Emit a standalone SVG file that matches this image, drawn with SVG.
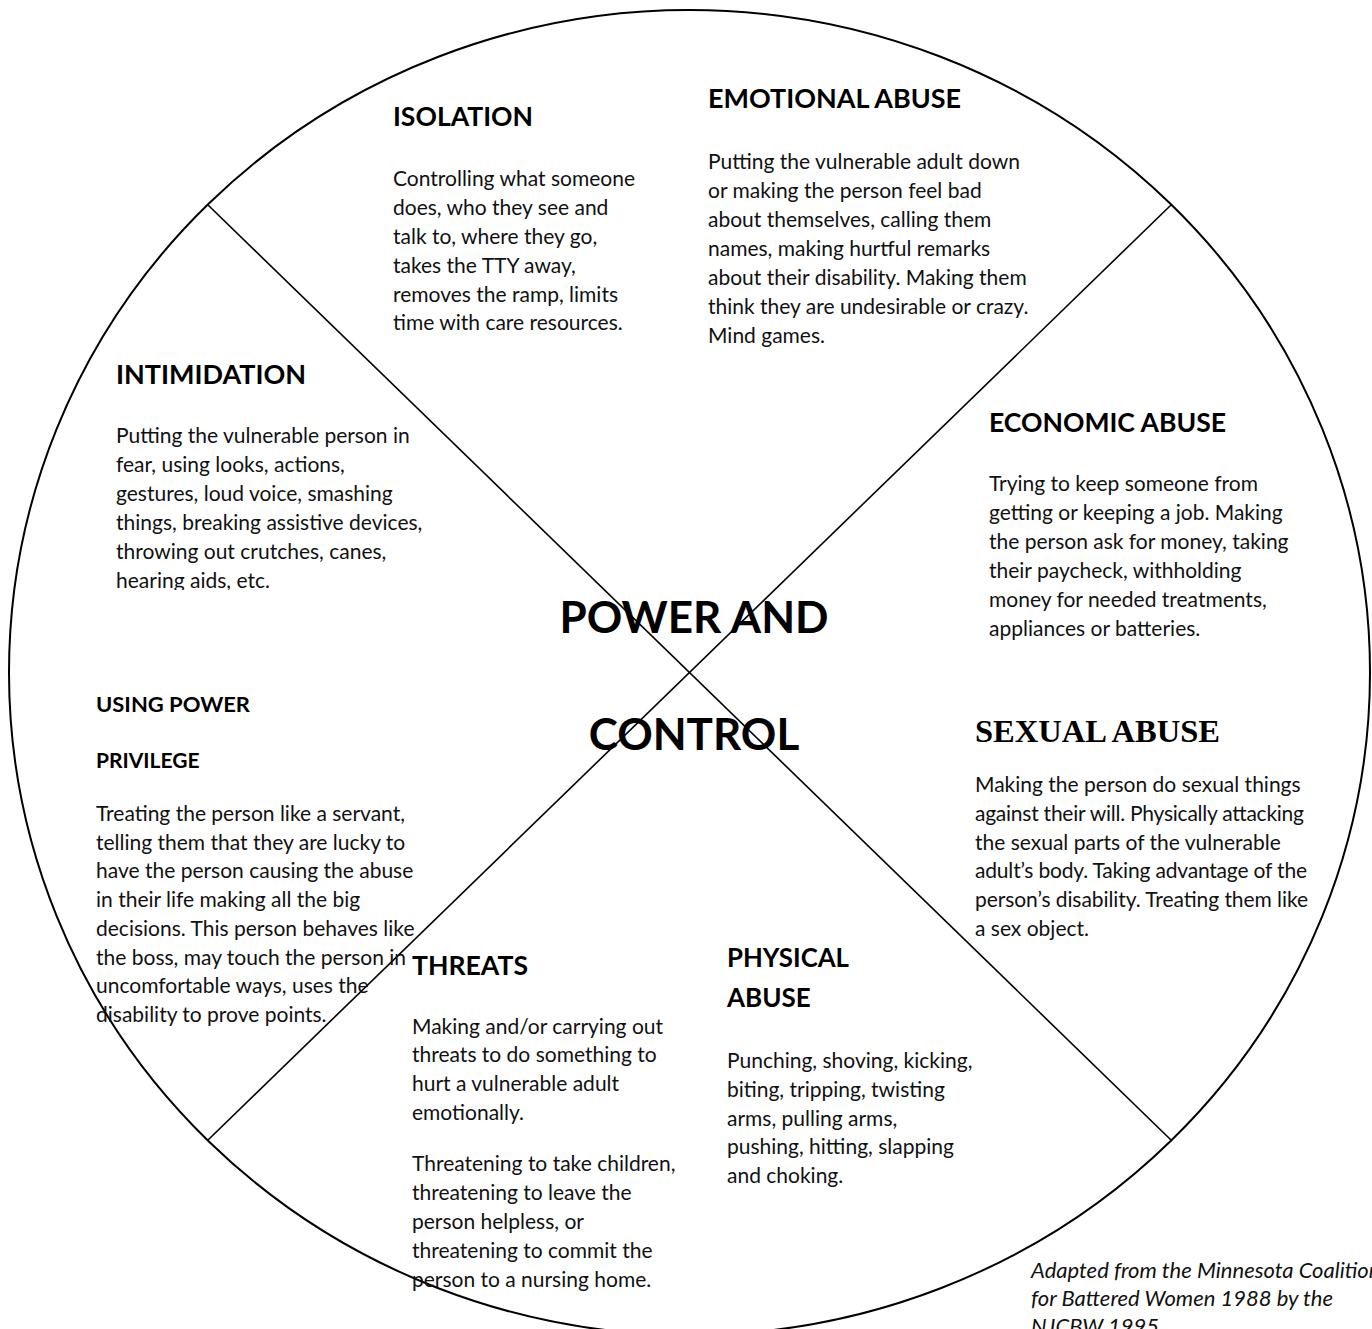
<svg xmlns="http://www.w3.org/2000/svg" width="1372" height="1329" viewBox="0 0 1372 1329">
  <style>
    .rim { fill: none; stroke: #000; stroke-width: 2; }
    .spoke { stroke: #000; stroke-width: 1.6; fill: none; }
    .head { font-family: Lato, "Open Sans", "Liberation Sans", sans-serif; font-weight: 700; font-size: 26px; fill: #000; }
    .head-sm { font-family: Lato, "Open Sans", "Liberation Sans", sans-serif; font-weight: 700; font-size: 21px; fill: #000; }
    .head-serif { font-family: "Liberation Serif", "Times New Roman", serif; font-weight: 700; font-size: 32px; fill: #000; }
    .body { font-family: Lato, "Open Sans", "Liberation Sans", sans-serif; font-size: 21px; fill: #111; }
    .title { font-family: Lato, "Open Sans", "Liberation Sans", sans-serif; font-weight: 700; font-size: 44px; fill: #000; text-anchor: middle; }
    .credit { font-family: Lato, "Open Sans", "Liberation Sans", sans-serif; font-style: italic; font-size: 22px; fill: #111; }
  </style>
  <defs>
    <clipPath id="clip-intimidation">
      <rect x="100" y="400" width="340" height="190"/>
    </clipPath>
  </defs>

  <rect x="0" y="0" width="1372" height="1329" fill="#fff"/>

  <!-- outer wheel and the two spokes dividing it into sections -->
  <g id="connectors">
    <ellipse class="rim" cx="689.5" cy="672.5" rx="680.5" ry="662.5"/>
    <line class="spoke" x1="208" y1="205" x2="1171" y2="1140"/>
    <line class="spoke" x1="1171" y1="205" x2="208" y2="1140"/>
  </g>

  <g id="isolation">
    <text class="head" x="393" y="126" textLength="140" lengthAdjust="spacingAndGlyphs">ISOLATION</text>
    <text class="body" x="393">
      <tspan x="393" y="186">Controlling what someone</tspan>
      <tspan x="393" y="215">does, who they see and</tspan>
      <tspan x="393" y="244">talk to, where they go,</tspan>
      <tspan x="393" y="272.5">takes the TTY away,</tspan>
      <tspan x="393" y="301.5">removes the ramp, limits</tspan>
      <tspan x="393" y="330">time with care resources.</tspan>
    </text>
  </g>

  <g id="emotional-abuse">
    <text class="head" x="708" y="108" textLength="253" lengthAdjust="spacingAndGlyphs">EMOTIONAL ABUSE</text>
    <text class="body">
      <tspan x="708" y="169">Putting the vulnerable adult down</tspan>
      <tspan x="708" y="198">or making the person feel bad</tspan>
      <tspan x="708" y="227">about themselves, calling them</tspan>
      <tspan x="708" y="256">names, making hurtful remarks</tspan>
      <tspan x="708" y="285">about their disability. Making them</tspan>
      <tspan x="708" y="314">think they are undesirable or crazy.</tspan>
      <tspan x="708" y="343">Mind games.</tspan>
    </text>
  </g>

  <g id="intimidation">
    <text class="head" x="116" y="384" textLength="190" lengthAdjust="spacingAndGlyphs">INTIMIDATION</text>
    <text class="body" clip-path="url(#clip-intimidation)">
      <tspan x="116" y="443">Putting the vulnerable person in</tspan>
      <tspan x="116" y="472">fear, using looks, actions,</tspan>
      <tspan x="116" y="501">gestures, loud voice, smashing</tspan>
      <tspan x="116" y="530">things, breaking assistive devices,</tspan>
      <tspan x="116" y="558.5">throwing out crutches, canes,</tspan>
      <tspan x="116" y="587.5">hearing aids, etc.</tspan>
    </text>
  </g>

  <g id="economic-abuse">
    <text class="head" x="989" y="432" textLength="237" lengthAdjust="spacingAndGlyphs">ECONOMIC ABUSE</text>
    <text class="body">
      <tspan x="989" y="491">Trying to keep someone from</tspan>
      <tspan x="989" y="520">getting or keeping a job. Making</tspan>
      <tspan x="989" y="549">the person ask for money, taking</tspan>
      <tspan x="989" y="578">their paycheck, withholding</tspan>
      <tspan x="989" y="606.5">money for needed treatments,</tspan>
      <tspan x="989" y="635.5">appliances or batteries.</tspan>
    </text>
  </g>

  <g id="center">
    <text class="title" x="694" y="633">POWER AND</text>
    <text class="title" x="694" y="750">CONTROL</text>
  </g>

  <g id="using-power">
    <text class="head-sm" x="96" y="712" textLength="154" lengthAdjust="spacingAndGlyphs">USING POWER</text>
    <text class="head-sm" x="96" y="768">PRIVILEGE</text>
    <text class="body">
      <tspan x="96" y="821">Treating the person like a servant,</tspan>
      <tspan x="96" y="849.5">telling them that they are lucky to</tspan>
      <tspan x="96" y="878">have the person causing the abuse</tspan>
      <tspan x="96" y="907">in their life making all the big</tspan>
      <tspan x="96" y="936">decisions. This person behaves like</tspan>
      <tspan x="96" y="964.5">the boss, may touch the person in</tspan>
      <tspan x="96" y="993">uncomfortable ways, uses the</tspan>
      <tspan x="96" y="1022">disability to prove points.</tspan>
    </text>
  </g>

  <g id="sexual-abuse">
    <text class="head-serif" x="975" y="742" textLength="245" lengthAdjust="spacingAndGlyphs">SEXUAL ABUSE</text>
    <text class="body" x="975" y="792">Making the person do sexual things</text>
    <text class="body" x="975" y="821" textLength="329" lengthAdjust="spacing">against their will. Physically attacking</text>
    <text class="body" x="975" y="849.5">the sexual parts of the vulnerable</text>
    <text class="body" x="975" y="878" textLength="332" lengthAdjust="spacing">adult’s body. Taking advantage of the</text>
    <text class="body" x="975" y="907" textLength="333" lengthAdjust="spacing">person’s disability. Treating them like</text>
    <text class="body" x="975" y="936">a sex object.</text>
  </g>

  <g id="threats">
    <text class="head" x="412" y="975" textLength="116" lengthAdjust="spacingAndGlyphs">THREATS</text>
    <text class="body">
      <tspan x="412" y="1034">Making and/or carrying out</tspan>
      <tspan x="412" y="1062">threats to do something to</tspan>
      <tspan x="412" y="1091">hurt a vulnerable adult</tspan>
      <tspan x="412" y="1119.5">emotionally.</tspan>
      <tspan x="412" y="1171">Threatening to take children,</tspan>
      <tspan x="412" y="1200">threatening to leave the</tspan>
      <tspan x="412" y="1228.5">person helpless, or</tspan>
      <tspan x="412" y="1257.5">threatening to commit the</tspan>
      <tspan x="412" y="1286.5">person to a nursing home.</tspan>
    </text>
  </g>

  <g id="physical-abuse">
    <text class="head" x="727" y="967" textLength="122" lengthAdjust="spacingAndGlyphs">PHYSICAL</text>
    <text class="head" x="727" y="1007">ABUSE</text>
    <text class="body">
      <tspan x="727" y="1068">Punching, shoving, kicking,</tspan>
      <tspan x="727" y="1097">biting, tripping, twisting</tspan>
      <tspan x="727" y="1125.5">arms, pulling arms,</tspan>
      <tspan x="727" y="1154">pushing, hitting, slapping</tspan>
      <tspan x="727" y="1182.5">and choking.</tspan>
    </text>
  </g>

  <g id="credit">
    <text class="credit">
      <tspan x="1031" y="1278">Adapted from the Minnesota Coalition</tspan>
      <tspan x="1031" y="1306">for Battered Women 1988 by the</tspan>
      <tspan x="1031" y="1334">NJCBW 1995</tspan>
    </text>
  </g>
</svg>
